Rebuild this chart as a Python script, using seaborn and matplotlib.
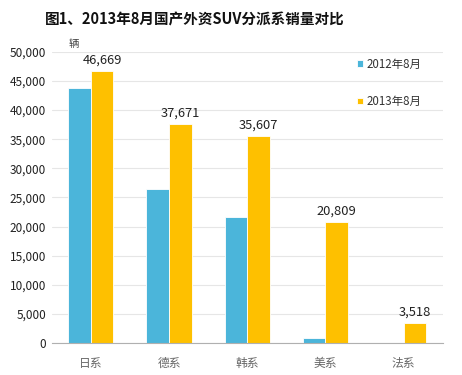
import pandas as pd
import seaborn as sns
import matplotlib.pyplot as plt
import numpy as np

# Data
categories = ['日系', '德系', '韩系', '美系', '法系']
sales_2012 = [43700, 26500, 21600, 850, 0]
sales_2013 = [46669, 37671, 35607, 20809, 3518]
series = ['2012年8月', '2013年8月']

df = pd.DataFrame({
    'cat': categories * 2,
    'year': [series[0]] * 5 + [series[1]] * 5,
    'sales': sales_2012 + sales_2013,
})

sns.set_style('white')
plt.rcParams['font.family'] = ['Noto Sans CJK SC', 'DejaVu Sans']

fig = plt.figure(figsize=(4.62, 3.75), dpi=100)
ax = fig.add_axes([0.112, 0.085, 0.846, 0.777])

palette = {series[0]: '#4bb5da', series[1]: '#fec000'}
sns.barplot(data=df, x='cat', y='sales', hue='year', palette=palette,
            width=0.58, gap=0, edgecolor='white', linewidth=0.6, ax=ax, saturation=1)

# labels above 2013 bars
for bar, v in zip(ax.containers[1], sales_2013):
    ax.text(bar.get_x() + bar.get_width() / 2, v + 700, f'{v:,}',
            ha='center', va='bottom', fontsize=9.3, color='#222222')

ax.set_ylim(0, 50000)
ax.set_xlim(-0.5, 4.5)
ax.set_yticks(np.arange(0, 50001, 5000))
ax.set_yticklabels([f'{t:,}' for t in range(0, 50001, 5000)], fontsize=8.5, color='#222222')
ax.yaxis.grid(True, color='#e6e6e6', linewidth=0.8)
ax.set_axisbelow(True)
ax.tick_params(axis='y', length=0, pad=4)

ax.set_xticks(range(5))
ax.set_xticklabels(categories, fontsize=8.5, color='#666666')
ax.set_xticks(np.arange(-0.5, 5, 1), minor=True)
ax.tick_params(axis='x', which='major', length=0, pad=10)
ax.tick_params(axis='x', which='minor', length=4, color='#b0b0b0', width=0.8, direction='out')

for s in ['top', 'right', 'left']:
    ax.spines[s].set_visible(False)
ax.spines['bottom'].set_color('#b0b0b0')
ax.spines['bottom'].set_linewidth(0.8)

ax.set_xlabel('')
ax.set_ylabel('')

fig.text(0.148, 0.883, '辆', fontsize=7.5, color='#444444', va='center')

leg = ax.legend(loc='upper left', bbox_to_anchor=(0.755, 1.015), frameon=False,
                fontsize=8.3, handlelength=0.5, handleheight=0.5, handletextpad=0.3,
                labelspacing=2.1)
for t in leg.get_texts():
    t.set_color('#333333')

fig.text(0.097, 0.947, '图1、2013年8月国产外资SUV分派系销量对比', fontsize=10.5,
         fontweight='bold', color='#111111', va='center')

fig.savefig('out.png', dpi=100, facecolor='white')
